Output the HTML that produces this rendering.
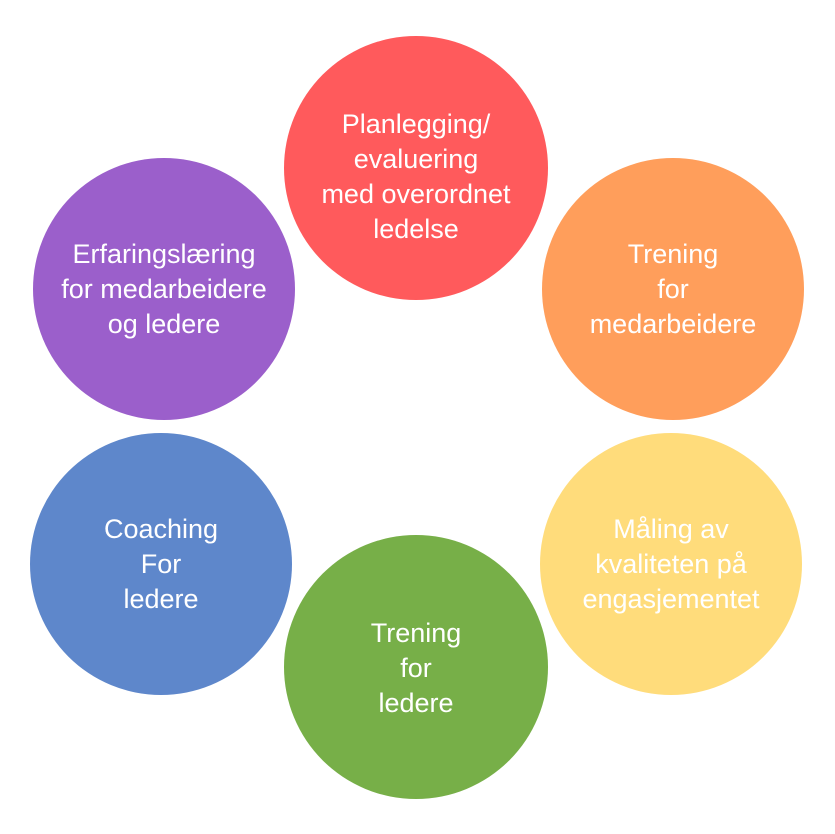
<!DOCTYPE html>
<html><head><meta charset="utf-8"><style>
html,body{margin:0;padding:0;background:#fff;}
svg{display:block}
text{font-family:"Liberation Sans",sans-serif;font-size:27px;fill:#fff;text-anchor:middle}
</style></head><body>
<svg width="835" height="834" viewBox="0 0 835 834" xmlns="http://www.w3.org/2000/svg">
<circle cx="416" cy="168" r="132" fill="#FF5A5C"/>
<circle cx="673" cy="289" r="131" fill="#FF9E5B"/>
<circle cx="671" cy="564" r="131" fill="#FFDC7B"/>
<circle cx="416" cy="667" r="132" fill="#77AF48"/>
<circle cx="161" cy="564" r="131" fill="#5E87CB"/>
<circle cx="164" cy="289" r="131" fill="#9B5FCB"/>
<text x="416" y="133">Planlegging/</text>
<text x="416" y="168">evaluering</text>
<text x="416" y="203">med overordnet</text>
<text x="416" y="238">ledelse</text>
<text x="673" y="263">Trening</text>
<text x="673" y="298">for</text>
<text x="673" y="333">medarbeidere</text>
<text x="671" y="538">Måling av</text>
<text x="671" y="573">kvaliteten på</text>
<text x="671" y="608">engasjementet</text>
<text x="416" y="642">Trening</text>
<text x="416" y="677">for</text>
<text x="416" y="712">ledere</text>
<text x="161" y="538">Coaching</text>
<text x="161" y="573">For</text>
<text x="161" y="608">ledere</text>
<text x="164" y="263">Erfaringslæring</text>
<text x="164" y="298">for medarbeidere</text>
<text x="164" y="333">og ledere</text>
</svg>
</body></html>
